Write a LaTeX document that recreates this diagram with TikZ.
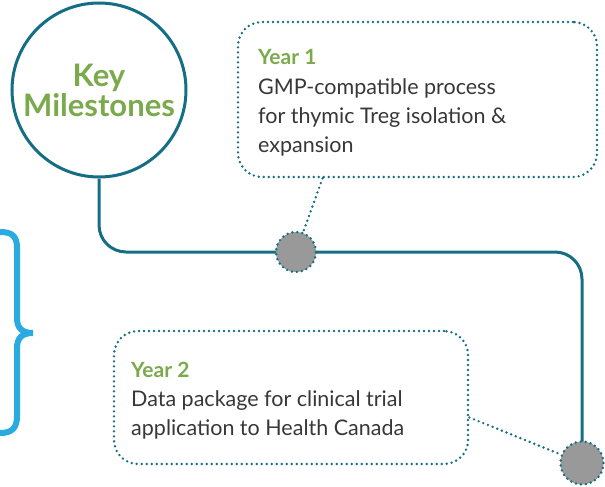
\documentclass[tikz,border=0pt]{standalone}
\usepackage{fontspec}
\setmainfont{Lato}
\usetikzlibrary{calc}
\definecolor{tealc}{RGB}{22,110,132}
\definecolor{greenc}{RGB}{122,170,76}
\definecolor{grayc}{RGB}{153,153,153}
\definecolor{bluec}{RGB}{41,171,226}
\definecolor{textc}{RGB}{55,55,55}
\tikzset{
  dotline/.style={draw=tealc, line width=2.7pt, line cap=round, dash pattern=on 0pt off 5pt},
  mbox/.style={dotline, rounded corners=24pt, minimum width=#1},
  marker/.style={circle, fill=grayc, dotline, minimum size=40pt, inner sep=0pt},
  ttl/.style={anchor=base west, inner sep=0pt, text=greenc, font=\fontsize{21}{25}\selectfont\bfseries},
  body/.style={anchor=base west, inner sep=0pt, text=textc, font=\fontsize{21.5}{25}\selectfont},
  mainline/.style={draw=tealc, line width=3pt}
}
\begin{document}
\begin{tikzpicture}[x=1pt,y=-1pt]
\useasboundingbox (0,0) rectangle (605,487);
% path coordinates
\coordinate (p1) at (296,252);
\coordinate (p2) at (582,463);
% key milestones circle
\node[circle, draw=tealc, line width=3pt, minimum size=174pt, inner sep=0pt, align=center,
  text=greenc, font=\fontsize{31}{30}\selectfont\bfseries] (kc) at (99,90) {Key\\Milestones};
% main line
\draw[mainline, rounded corners=27pt] (kc.south) |- (p1) -| (p2);
% boxes
\node[mbox=359pt, minimum height=155pt] (b1) at (417.5,99.5) {};
\node[mbox=354pt, minimum height=133pt] (b2) at (291,397.5) {};
% markers
\node[marker] (m1) at (p1) {};
\node[marker, minimum size=43pt] (m2) at (p2) {};
% dotted connectors
\draw[dotline] ([xshift=-95pt]b1.south) -- (m1);
\draw[dotline] ([yshift=-20pt]b2.east) -- (m2);
% box texts
\node[ttl] (y1) at (258,65) {Year 1};
\node[body] (y1a) at (258,95) {GMP-compatible process};
\node[body] (y1b) at (258,123.5) {for thymic Treg isolation \&};
\node[body] (y1c) at (258,152) {expansion};
\node[ttl] (y2) at (131,377) {Year 2};
\node[body] (y2a) at (131,406) {Data package for clinical trial};
\node[body] (y2b) at (131,435) {application to Health Canada};
% brace
\draw[draw=bluec, line width=6pt] (0,232) .. controls (12,232) and (17,236) .. (17,248)
  -- (17,318) .. controls (17,328) and (22,333) .. (33,333)
  .. controls (22,333) and (17,338) .. (17,348)
  -- (17,416) .. controls (17,428) and (12,433) .. (0,433);
\end{tikzpicture}
\end{document}
